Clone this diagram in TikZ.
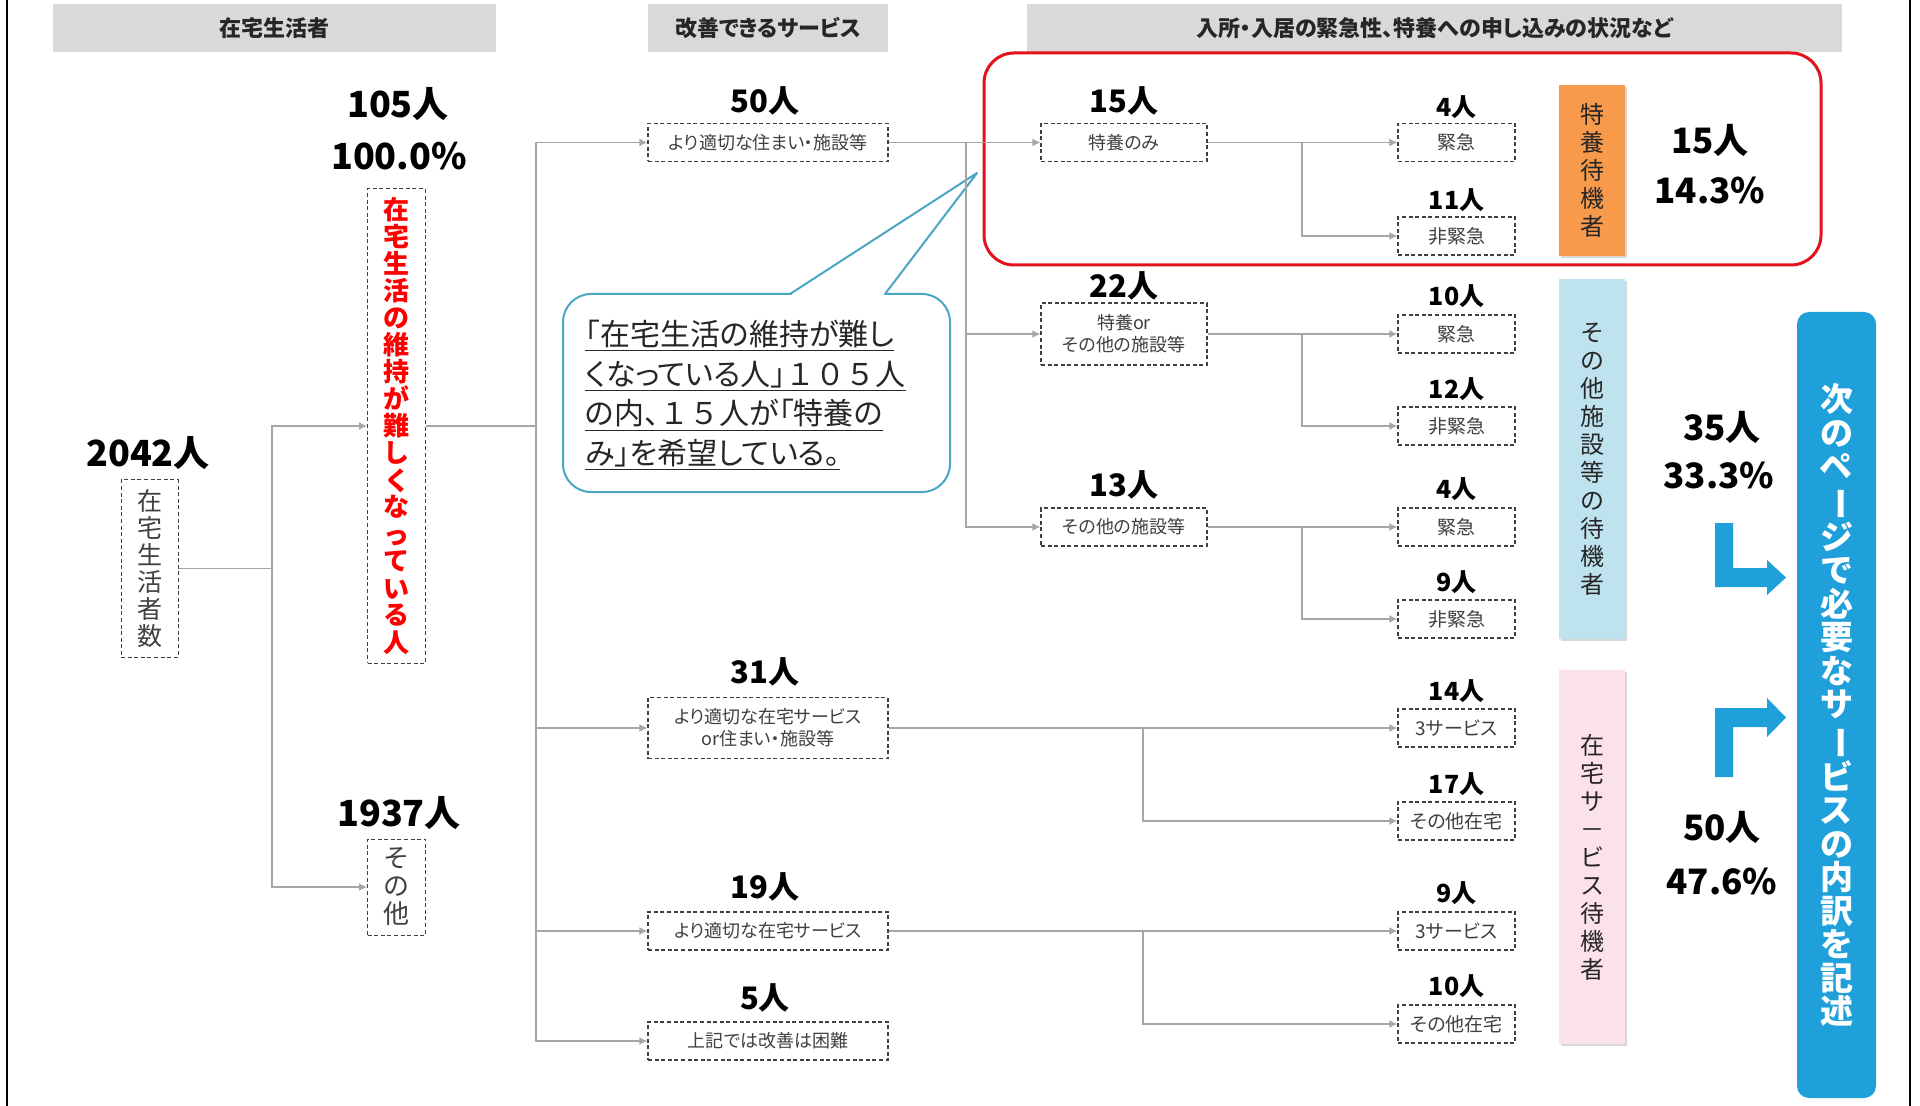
\documentclass[tikz,border=0pt]{standalone}
\usepackage{fontspec}
\usepackage{graphicx}
\setmainfont{Noto Sans CJK JP}[RawFeature=+palt]
\newfontfamily\fwfont{Noto Sans CJK JP}
\usetikzlibrary{arrows.meta,shadows}
\definecolor{hdrgray}{HTML}{D9D9D9}
\definecolor{linegray}{HTML}{A6A6A6}
\definecolor{boxline}{HTML}{404040}
\definecolor{boxtext}{HTML}{404040}
\definecolor{txtdark}{HTML}{262626}
\definecolor{orangebar}{HTML}{F79A4B}
\definecolor{bluebar}{HTML}{BEE2EE}
\definecolor{pinkbar}{HTML}{FBE2E8}
\definecolor{bigblue}{HTML}{1FA0DB}
\definecolor{redframe}{HTML}{E3121C}
\definecolor{redtext}{HTML}{FF0000}
\definecolor{callline}{HTML}{4BA6C4}
\newcommand{\vbarchar}{\rotatebox[origin=c]{-90}{ー}}
\begin{document}
\begin{tikzpicture}[x=0.5pt,y=-0.5pt,
  hdr/.style={fill=hdrgray, text=txtdark, inner sep=0pt, minimum height=24pt, font=\bfseries\fontsize{11}{13}\selectfont},
  dbox/.style={draw=boxline, dash pattern=on 2pt off 1.3pt, line width=0.6pt, fill=white, text=boxtext, inner sep=1pt, align=center, minimum height=19pt, font=\fontsize{9}{11}\selectfont},
  vbox/.style={draw=boxline, dash pattern=on 2pt off 1.3pt, line width=0.5pt, fill=white, inner sep=0pt, align=center, minimum width=29pt},
  num/.style={font=\bfseries\fontsize{15.5}{18}\selectfont, inner sep=0pt},
  snum/.style={font=\bfseries\fontsize{12.5}{15}\selectfont, inner sep=0pt},
  bignum/.style={font=\bfseries\fontsize{18}{21}\selectfont, inner sep=0pt},
  totnum/.style={font=\bfseries\fontsize{17.5}{21}\selectfont, inner sep=0pt},
  wire/.style={draw=linegray, line width=0.75pt},
  conn/.style={wire, -{Latex[length=4pt,width=4pt]}},
  vbar/.style={minimum width=33pt, inner sep=0pt, align=center, text=txtdark, font=\fontsize{12}{14}\selectfont, drop shadow={shadow xshift=0.8pt, shadow yshift=-1.2pt, opacity=0.3}},
]
\useasboundingbox (0,0) rectangle (1920,1106);
\fill[white] (0,0) rectangle (1920,1106);
% frame lines
\draw[line width=1.25pt] (7,0) -- (7,1106);
\draw[line width=1.25pt] (1910,0) -- (1910,1106);

% headers
\node[hdr, minimum width=221.5pt] (h1) at (274.5,28.5) {在宅生活者};
\node[hdr, minimum width=120pt] (h2) at (768,28) {改善できるサービス};
\node[hdr, minimum width=407.5pt] (h3) at (1434.5,28) {入所・入居の緊急性、特養への申し込みの状況など};

% red highlight frame
\draw[draw=redframe, line width=1.5pt, rounded corners=15pt] (984,53) rectangle (1821,265);

% callout
\node[draw=callline, line width=1pt, fill=white, rounded corners=14pt, minimum width=193.5pt, minimum height=99pt] (call) at (756.5,393) {};
\fill[white] (790,294) -- (977,173) -- (885,294) -- cycle;
\fill[white] (791.5,291) rectangle (883.5,297);
\draw[draw=callline, line width=1pt, line join=round] (790,294) -- (977,173) -- (885,294);
\node[anchor=west, align=left, inner sep=0pt, text=txtdark, font=\fontsize{15}{19.85}\selectfont] (calltext) at (585,395.5)
 {\underline{「在宅生活の維持が難し}\\\underline{くなっている人」{\fwfont １０５}人}\\\underline{の内、{\fwfont １５}人が「特養の}\\\underline{み」を希望している。}};

% column 1
\node[bignum] (l2042) at (148,453) {2042人};
\node[vbox, text=boxtext, minimum width=28.5pt, minimum height=88.5pt, font=\fontsize{12.5}{13.5}\selectfont] (c1) at (149.5,568.5) {在\\宅\\生\\活\\者\\数};

% column 2
\node[bignum] (l105) at (398,104) {105人};
\node[bignum] (l100) at (399,156) {100.0\%};
\node[vbox, text=redtext, minimum height=237pt, font=\bfseries\fontsize{13}{13.5}\selectfont] (c2a) at (396.5,426) {在\\宅\\生\\活\\の\\維\\持\\が\\難\\し\\く\\な\\っ\\て\\い\\る\\人};
\node[bignum] (l1937) at (399,813) {1937人};
\node[vbox, text=boxtext, minimum height=48pt, font=\fontsize{13}{14}\selectfont] (c2b) at (396.5,887) {そ\\の\\他};

% services
\node[num] (l50) at (765,101) {50人};
\node[dbox, minimum width=120pt] (s50) at (768,142.5) {より適切な住まい・施設等};
\node[num] (l31) at (765,672) {31人};
\node[dbox, minimum width=120pt, minimum height=30.5pt] (s31) at (768,728) {より適切な在宅サービス\\or住まい・施設等};
\node[num] (l19) at (765,887) {19人};
\node[dbox, minimum width=120pt] (s19) at (768,931) {より適切な在宅サービス};
\node[num] (l5) at (765,998) {5人};
\node[dbox, minimum width=120pt] (s5) at (768,1041) {上記では改善は困難};

% facility types
\node[num] (l15) at (1124,101) {15人};
\node[dbox, minimum width=83pt] (t15) at (1124,142.5) {特養のみ};
\node[num] (l22) at (1124,286) {22人};
\node[dbox, minimum width=83pt, minimum height=31pt] (t22) at (1124,334) {特養or\\その他の施設等};
\node[num] (l13) at (1124,485) {13人};
\node[dbox, minimum width=83pt] (t13) at (1124,527) {その他の施設等};

% urgency
\tikzset{ubox/.style={dbox, minimum width=58.5pt, font=\fontsize{9.5}{11}\selectfont}}
\node[snum] (m1) at (1456.5,107) {4人};
\node[ubox] (u1) at (1456.5,142.5) {緊急};
\node[snum] (m2) at (1456.5,200) {11人};
\node[ubox] (u2) at (1456.5,236) {非緊急};
\node[snum] (m3) at (1456.5,296) {10人};
\node[ubox] (u3) at (1456.5,334) {緊急};
\node[snum] (m4) at (1456.5,389) {12人};
\node[ubox] (u4) at (1456.5,426) {非緊急};
\node[snum] (m5) at (1456.5,489) {4人};
\node[ubox] (u5) at (1456.5,527) {緊急};
\node[snum] (m6) at (1456.5,582) {9人};
\node[ubox] (u6) at (1456.5,619) {非緊急};
\node[snum] (m7) at (1456.5,691) {14人};
\node[ubox] (u7) at (1456.5,728) {3サービス};
\node[snum] (m8) at (1456.5,784) {17人};
\node[ubox] (u8) at (1456.5,821) {その他在宅};
\node[snum] (m9) at (1456.5,893) {9人};
\node[ubox] (u9) at (1456.5,931) {3サービス};
\node[snum] (m10) at (1456.5,986) {10人};
\node[ubox] (u10) at (1456.5,1024) {その他在宅};

% connectors
\coordinate (j0) at (272,568.5);
\draw[wire] (c1.east) -- (j0);
\draw[conn] (j0) |- (c2a.west);
\draw[conn] (j0) |- (c2b.west);

\coordinate (j1) at (536,426);
\draw[wire] (c2a.east) -- (j1);
\draw[conn] (j1) |- (s50.west);
\draw[conn] (j1) |- (s31.west);
\draw[conn] (j1) |- (s19.west);
\draw[conn] (j1) |- (s5.west);

\coordinate (j2) at (966,142.5);
\draw[wire] (s50.east) -- (j2);
\draw[conn] (j2) -- (t15.west);
\draw[conn] (j2) |- (t22.west);
\draw[conn] (j2) |- (t13.west);

\coordinate (j3a) at (1302,142.5);
\draw[wire] (t15.east) -- (j3a);
\draw[conn] (j3a) -- (u1.west);
\draw[conn] (j3a) |- (u2.west);
\coordinate (j3b) at (1302,334);
\draw[wire] (t22.east) -- (j3b);
\draw[conn] (j3b) -- (u3.west);
\draw[conn] (j3b) |- (u4.west);
\coordinate (j3c) at (1302,527);
\draw[wire] (t13.east) -- (j3c);
\draw[conn] (j3c) -- (u5.west);
\draw[conn] (j3c) |- (u6.west);

\coordinate (j4a) at (1143,728);
\draw[wire] (s31.east) -- (j4a);
\draw[conn] (j4a) -- (u7.west);
\draw[conn] (j4a) |- (u8.west);
\coordinate (j4b) at (1143,931);
\draw[wire] (s19.east) -- (j4b);
\draw[conn] (j4b) -- (u9.west);
\draw[conn] (j4b) |- (u10.west);

% category bars
\node[vbar, fill=orangebar, minimum height=85.5pt] (bar1) at (1592,170.5) {特\\養\\待\\機\\者};
\node[vbar, fill=bluebar, minimum height=180pt] (bar2) at (1592,459) {そ\\の\\他\\施\\設\\等\\の\\待\\機\\者};
\node[vbar, fill=pinkbar, minimum height=187pt] (bar3) at (1592,857) {在\\宅\\サ\\－\\ビ\\ス\\待\\機\\者};

% totals
\node[totnum] (r15) at (1710,140) {15人};
\node[totnum] (r143) at (1710,190) {14.3\%};
\node[totnum] (r35) at (1722,427) {35人};
\node[totnum] (r333) at (1719,475) {33.3\%};
\node[totnum] (r50) at (1722,827) {50人};
\node[totnum] (r476) at (1722,881) {47.6\%};

% bent arrows
\fill[bigblue] (1715,523) -- (1733,523) -- (1733,568) -- (1767,568) -- (1767,560) -- (1786,577.5) -- (1767,595) -- (1767,587) -- (1715,587) -- cycle;
\fill[bigblue] (1715,777) -- (1733,777) -- (1733,727) -- (1767,727) -- (1767,737) -- (1786,717.5) -- (1767,698) -- (1767,708) -- (1715,708) -- cycle;

% next-page box
\node[fill=bigblue, rounded corners=6pt, minimum width=39.5pt, minimum height=393pt, inner sep=0pt, align=center, text=white, font=\bfseries\fontsize{16.5}{16.75}\selectfont] (next) at (1836.5,705)
 {次\\の\\ペ\\\vbarchar\\ジ\\で\\必\\要\\な\\サ\\\vbarchar\\ビ\\ス\\の\\内\\訳\\を\\記\\述};
\end{tikzpicture}
\end{document}
